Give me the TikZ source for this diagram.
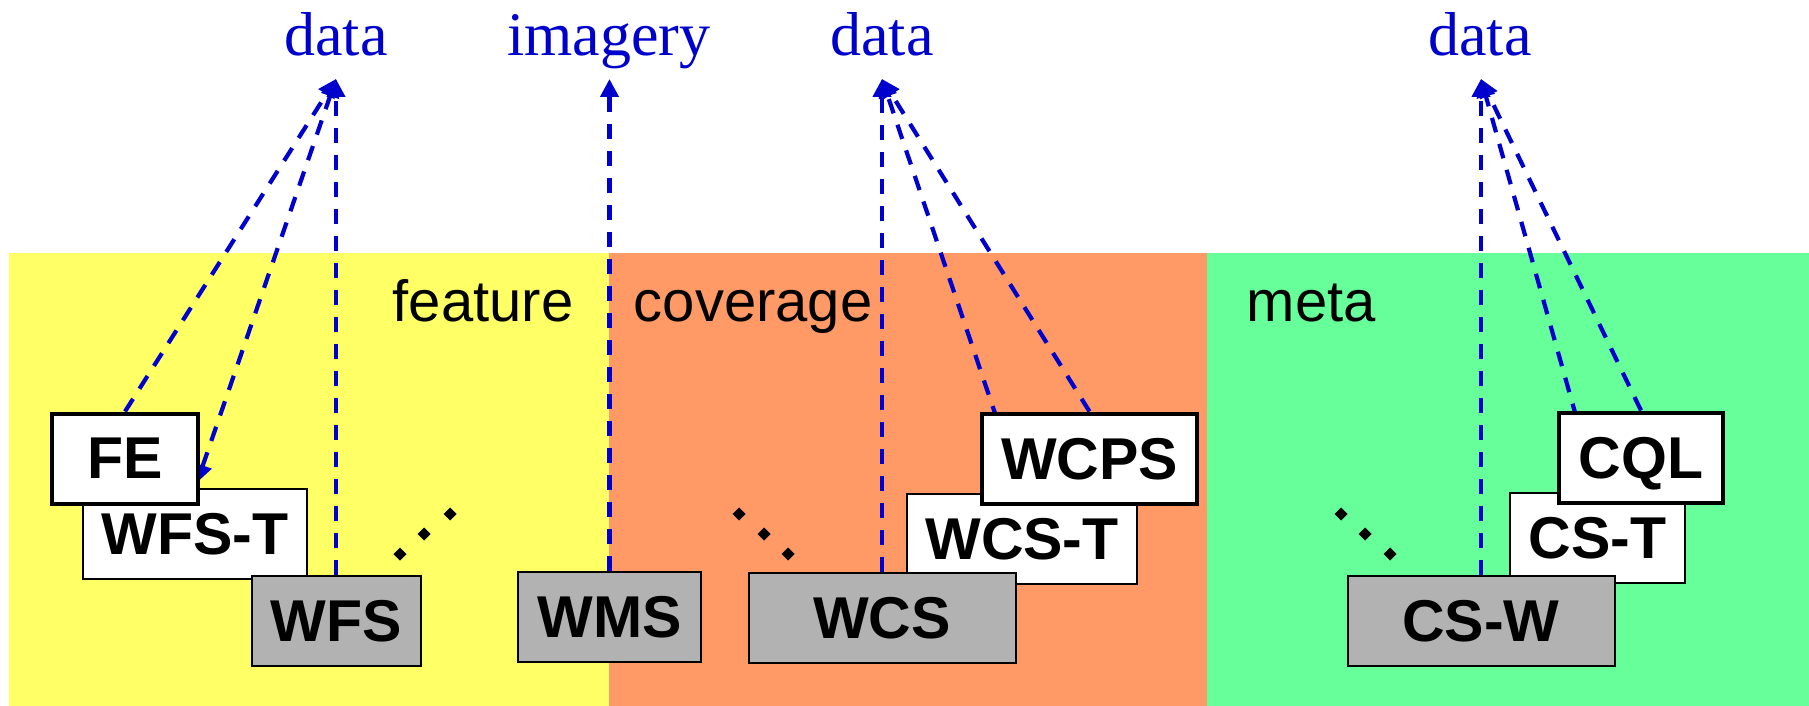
\documentclass[tikz,border=0pt]{standalone}
\usepackage{fontspec}
\setmainfont{Liberation Serif}
\setsansfont{Liberation Sans}
\usetikzlibrary{arrows.meta,backgrounds}

\definecolor{bandyellow}{RGB}{255,255,102}
\definecolor{bandorange}{RGB}{255,153,102}
\definecolor{bandgreen}{RGB}{102,255,153}
\definecolor{svcgrey}{RGB}{178,178,178}
\definecolor{linkblue}{RGB}{0,0,204}

\tikzset{every picture/.style={line width=0.75pt},
  svc/.style={draw, inner sep=0pt, minimum height=45pt, text depth=0pt, font=\sffamily\bfseries\fontsize{29.5}{34}\selectfont},
  svcbase/.style={svc, fill=svcgrey, line width=1pt},
  svcext/.style={svc, fill=white, line width=0.8pt},
  svclang/.style={svc, fill=white, line width=2pt},
  link/.style={draw=linkblue, line width=2.1pt, dash pattern=on 7.5pt off 6pt, -{Triangle[length=9pt,width=9pt]}},
  linkT/.style={link, {Triangle[length=9pt,width=9pt]}-{Triangle[length=9pt,width=9pt]}, shorten <=3pt},
  lbl/.style={text=linkblue, inner sep=0pt, anchor=base, font=\rmfamily\fontsize{31}{36}\selectfont},
  area/.style={anchor=base west, inner sep=0pt, font=\sffamily\fontsize{29}{34}\selectfont}
}

\begin{document}
\begin{tikzpicture}[x=0.5pt,y=0.5pt,yscale=-1,xscale=1]
\useasboundingbox (0,0) rectangle (1809,706);

% Labels and arrow ends
\node (lblF) [lbl] at (336,56) {data};
\node (lblI) [lbl] at (609,56) {imagery};
\node (lblC) [lbl] at (882,56) {data};
\node (lblM) [lbl] at (1480,56) {data};
\coordinate (dataF) at (336,79);
\coordinate (imgC) at (609.5,79);
\coordinate (dataC) at (882,79);
\coordinate (dataM) at (1481,79);

% Area names
\node (feat) [area] at (392,321) {feature};
\node (cov) [area] at (633,321) {coverage};
\node (meta) [area] at (1246,321) {meta};

% feature services
\node (wfst) [svcext, minimum width=112pt] at (195,534) {WFS-T};
\node (fe) [svclang, minimum width=73pt] at (125,458.5) {FE};
\node (wfs) [svcbase, minimum width=84.5pt] at (336,621) {WFS};
% portrayal
\node (wms) [svcbase, minimum width=91.5pt] at (609.5,617) {WMS};
% coverage services
\node (wcst) [svcext, minimum width=115pt] at (1022,539) {WCS-T};
\node (wcps) [svclang, minimum width=107.5pt] at (1089.5,458.5) {WCPS};
\node (wcs) [svcbase, minimum width=133.5pt] at (882,618) {WCS};
% catalogue services
\node (cst) [svcext, minimum width=87.5pt] at (1597.5,538) {CS-T};
\node (cql) [svclang, minimum width=82pt] at (1641,457.5) {CQL};
\node (csw) [svcbase, minimum width=133.5pt] at (1481,621) {CS-W};

% Dots
\foreach \px/\py in {400/554, 424/534, 450/514, 739/514, 764/534, 788/554, 1341/514, 1365/534, 1390/554}
  \fill (\px,\py) +(-6.5,0) -- +(0,-6.5) -- +(6.5,0) -- +(0,6.5) -- cycle;

\begin{scope}[on background layer]
% Bands
\fill [bandyellow] (9,253) rectangle (609,706);
\fill [bandorange] (609,253) rectangle (1207,706);
\fill [bandgreen] (1207,253) rectangle (1809,706);
% Links
\draw [link] (fe.north) -- (dataF);
\draw [linkT] (wfst.north) -- (dataF);
\draw [link] (wfs.north) -- (dataF);
\draw [link] (wms.north) -- (imgC);
\draw [link] (wcs.north) -- (dataC);
\draw [linkT] (wcst.north) -- (dataC);
\draw [link] (wcps.north) -- (dataC);
\draw [link] (csw.north) -- (dataM);
\draw [linkT] (cst.north) -- (dataM);
\draw [link] (cql.north) -- (dataM);
\end{scope}

\end{tikzpicture}
\end{document}
